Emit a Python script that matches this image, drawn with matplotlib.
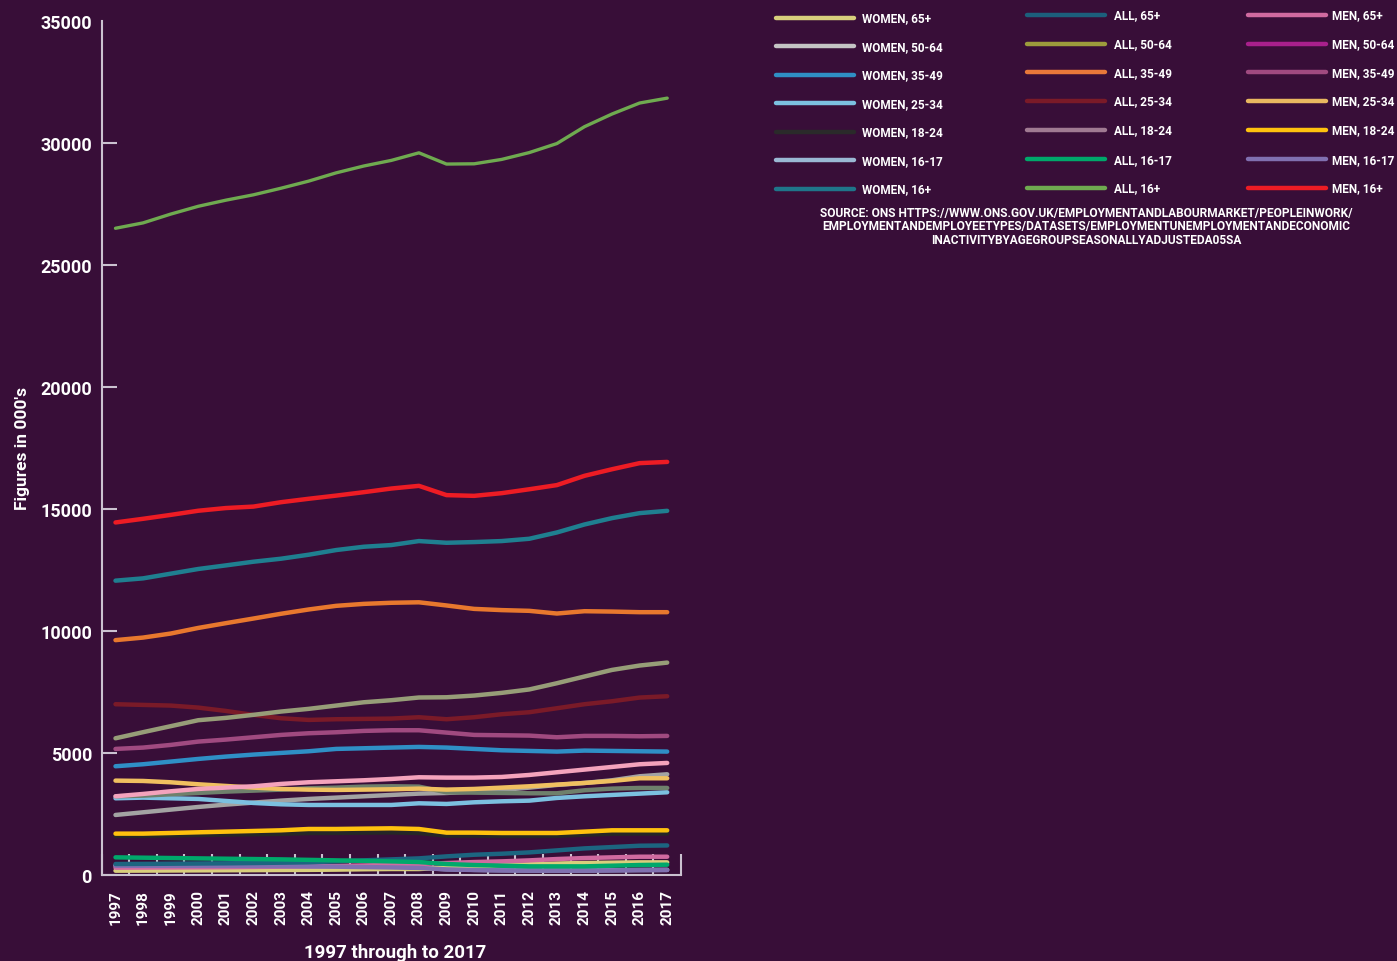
import numpy as np
import matplotlib
matplotlib.use('Agg')
import matplotlib.pyplot as plt
from matplotlib.lines import Line2D

plt.rcParams['font.family'] = ['Roboto', 'DejaVu Sans']
plt.rcParams['font.weight'] = 'bold'
W = 'bold'

# employment figures in 000's, 1997 - 2017
years = np.arange(1997, 2018)

all_16plus = [26490, 26710, 27070, 27390, 27640, 27860, 28130, 28420, 28760, 29040, 29270,
              29580, 29120, 29130, 29310, 29590, 29960, 30650, 31170, 31620, 31820]
men_16plus = [14440, 14590, 14750, 14920, 15030, 15090, 15270, 15410, 15540, 15680, 15830,
              15940, 15560, 15530, 15640, 15800, 15970, 16350, 16620, 16870, 16920]
women_16plus = [12056, 12150, 12342, 12534, 12681, 12832, 12955, 13118, 13310, 13445, 13515,
                13678, 13608, 13637, 13678, 13772, 14030, 14357, 14618, 14822, 14916]
all_35_49 = [9620, 9725, 9890, 10120, 10315, 10505, 10700, 10875, 11025, 11105, 11150,
             11170, 11040, 10900, 10850, 10820, 10710, 10805, 10790, 10765, 10765]
all_50_64 = [5600, 5850, 6095, 6340, 6435, 6560, 6695, 6805, 6940, 7075, 7160,
             7270, 7280, 7350, 7460, 7600, 7855, 8130, 8400, 8580, 8700]
all_25_34 = [6995, 6967, 6940, 6857, 6720, 6557, 6420, 6352, 6380, 6393, 6407,
             6462, 6380, 6462, 6585, 6667, 6830, 6995, 7117, 7268, 7322]
men_35_49 = [5164, 5219, 5328, 5464, 5546, 5642, 5738, 5806, 5847, 5902, 5929,
             5929, 5833, 5738, 5724, 5710, 5642, 5697, 5697, 5683, 5697]
women_35_49 = [4454, 4536, 4645, 4754, 4850, 4932, 5000, 5068, 5164, 5191, 5219,
               5246, 5219, 5164, 5109, 5082, 5055, 5096, 5082, 5068, 5055]
men_50_64 = [3224, 3320, 3429, 3525, 3579, 3634, 3730, 3798, 3839, 3880, 3934,
             4003, 3989, 3989, 4016, 4098, 4208, 4317, 4426, 4536, 4590]
men_25_34 = [3866, 3852, 3798, 3716, 3648, 3579, 3525, 3497, 3484, 3497, 3511,
             3538, 3497, 3525, 3579, 3634, 3702, 3770, 3852, 3962, 3962]
all_18_24 = [3224, 3251, 3306, 3361, 3415, 3456, 3497, 3552, 3579, 3620, 3634,
             3620, 3388, 3374, 3361, 3347, 3347, 3470, 3538, 3566, 3566]
women_25_34 = [3142, 3169, 3142, 3115, 3033, 2951, 2896, 2869, 2869, 2869, 2869,
               2937, 2910, 2978, 3019, 3046, 3156, 3224, 3279, 3333, 3388]
women_50_64 = [2459, 2568, 2678, 2787, 2883, 2965, 3046, 3115, 3169, 3224, 3279,
               3333, 3361, 3415, 3484, 3579, 3689, 3770, 3880, 4044, 4126]
men_18_24 = [1694, 1694, 1721, 1749, 1776, 1803, 1831, 1885, 1885, 1899, 1912,
             1885, 1735, 1735, 1721, 1721, 1721, 1776, 1831, 1831, 1831]
women_18_24 = [1600, 1605, 1620, 1640, 1655, 1670, 1685, 1720, 1725, 1735, 1745,
               1720, 1610, 1610, 1600, 1600, 1605, 1650, 1690, 1700, 1700]
all_16_17 = [723, 709, 695, 681, 667, 654, 640, 620, 599, 580, 558,
             531, 450, 409, 381, 354, 354, 354, 381, 409, 422]
all_65plus = [450, 455, 462, 470, 478, 490, 505, 520, 560, 600, 640,
              681, 763, 830, 871, 926, 1008, 1090, 1144, 1199, 1210]
men_65plus = [300, 305, 310, 315, 320, 330, 340, 350, 370, 390, 420,
              450, 490, 531, 558, 599, 654, 695, 722, 749, 749]
women_65plus = [177, 180, 185, 190, 195, 200, 205, 210, 220, 235, 245,
                245, 300, 350, 400, 440, 470, 490, 505, 518, 518]
men_16_17 = [380, 378, 375, 372, 370, 365, 360, 350, 340, 325, 310,
             290, 230, 205, 190, 180, 180, 180, 190, 200, 205]
women_16_17 = [390, 385, 380, 376, 372, 368, 360, 350, 338, 325, 312,
               295, 235, 210, 195, 185, 185, 185, 195, 205, 210]

bg = '#380e38'
axis_col = '#cbc2d0'

# (values, line colour, line width) in drawing order
series = [
    (women_16_17, '#9ab8d4', 3.2),
    (women_65plus, '#d8cf7c', 3.2),
    (men_65plus, '#d06aa0', 3.2),
    (men_16_17, '#8070b0', 3.2),
    (all_65plus, '#1c6580', 3.2),
    (all_16_17, '#00a86b', 3.2),
    (women_18_24, '#262626', 3.2),
    (men_18_24, '#ffc20e', 3.2),
    (women_50_64, '#a3a3a3', 3.2),
    (women_25_34, '#7cc0e0', 3.2),
    (all_18_24, '#6f806c', 3.2),
    (men_25_34, '#f0c060', 3.2),
    (men_50_64, '#f4a3bc', 3.2),
    (women_35_49, '#2f8fc6', 3.2),
    (men_35_49, '#a04a80', 3.2),
    (all_25_34, '#7a1a28', 3.2),
    (all_50_64, '#979d78', 3.2),
    (all_35_49, '#e8782e', 3.2),
    (women_16plus, '#1f7f90', 3.2),
    (men_16plus, '#ed1c24', 3.2),
    (all_16plus, '#6faa50', 2.4),
]

fig = plt.figure(figsize=(13.97, 9.62), dpi=100, facecolor=bg)
ax = fig.add_axes([101.7 / 1397, 1 - 876 / 962, (681 - 101.7) / 1397, (876 - 21.5) / 962])
ax.set_facecolor(bg)

for vals, col, lw in series:
    ax.plot(years, vals, color=col, lw=lw, solid_capstyle='round', solid_joinstyle='round')

ax.set_xlim(1996.5, 2017.5)
ax.set_ylim(0, 35000)
for s in ['top', 'right']:
    ax.spines[s].set_visible(False)
for s in ['left', 'bottom']:
    ax.spines[s].set_color(axis_col)
    ax.spines[s].set_linewidth(1.5)

ax.set_yticks(np.arange(0, 35001, 5000))
ax.set_yticklabels([str(v) for v in range(0, 35001, 5000)], fontsize=13, fontweight=W, color='white')
ax.tick_params(axis='y', direction='in', length=11, width=1.5, color=axis_col, pad=7)
ax.yaxis.get_major_ticks()[-1].tick1line.set_visible(False)

ax.set_xticks(years)
ax.set_xticklabels([str(y) for y in years], rotation=90, fontsize=11, fontweight=W, color='white')
ax.tick_params(axis='x', which='major', length=0, pad=10)
ax.set_xticks(np.arange(1996.5, 2018, 1), minor=True)
ax.tick_params(axis='x', which='minor', direction='in', length=15, width=1.5, color=axis_col)

ax.set_ylabel("Figures in 000's", fontsize=12.5, fontweight=W, color='white', labelpad=7)
fig.text(395 / 1397, 1 - 944 / 962, '1997 through to 2017', ha='center', va='top',
         fontsize=13.5, fontweight=W, color='white')

# legend, three columns: women / all / men
leg_women = ['WOMEN, 65+', 'WOMEN, 50-64', 'WOMEN, 35-49', 'WOMEN, 25-34', 'WOMEN, 18-24', 'WOMEN, 16-17', 'WOMEN, 16+']
leg_all = ['ALL, 65+', 'ALL, 50-64', 'ALL, 35-49', 'ALL, 25-34', 'ALL, 18-24', 'ALL, 16-17', 'ALL, 16+']
leg_men = ['MEN, 65+', 'MEN, 50-64', 'MEN, 35-49', 'MEN, 25-34', 'MEN, 18-24', 'MEN, 16-17', 'MEN, 16+']
col_women = ['#d8cf7c', '#c4c4c4', '#2f8fc4', '#7cc0e0', '#2a2a2a', '#9ab8d4', '#1f758a']
col_all = ['#1c5f7c', '#9c9c3c', '#e8783a', '#7a1a28', '#a07a92', '#00a86b', '#6faa50']
col_men = ['#d06aa0', '#a8208c', '#a04a80', '#e8b860', '#ffc20e', '#8070b0', '#ed1c24']

legend_cols = [
    (leg_women, col_women, 776, 854, 862, [19, 47.3, 76, 104.3, 132.7, 161.3, 189.7]),
    (leg_all, col_all, 1027, 1105, 1114, [16, 44.7, 73.3, 101.7, 131, 160.3, 189]),
    (leg_men, col_men, 1248, 1326, 1332, [16, 44.7, 73.3, 101.7, 131, 160.3, 189]),
]
for labels, cols, x0, x1, xt, rows in legend_cols:
    for lab, c, yy in zip(labels, cols, rows):
        fig.add_artist(Line2D([x0 / 1397, x1 / 1397], [1 - yy / 962, 1 - yy / 962],
                              transform=fig.transFigure, color=c, lw=3.2, solid_capstyle='round'))
        fig.text(xt / 1397, 1 - yy / 962, lab, ha='left', va='center', fontsize=8.5,
                 fontweight=W, color='white')

source = ['SOURCE: ONS HTTPS://WWW.ONS.GOV.UK/EMPLOYMENTANDLABOURMARKET/PEOPLEINWORK/',
          'EMPLOYMENTANDEMPLOYEETYPES/DATASETS/EMPLOYMENTUNEMPLOYMENTANDECONOMIC',
          'INACTIVITYBYAGEGROUPSEASONALLYADJUSTEDA05SA']
for i, line in enumerate(source):
    fig.text(1086 / 1397, 1 - (213 + 13.8 * i) / 962, line, ha='center', va='center',
             fontsize=8.6, fontweight=W, color='white')

fig.savefig('out.png', dpi=100, facecolor=bg)
